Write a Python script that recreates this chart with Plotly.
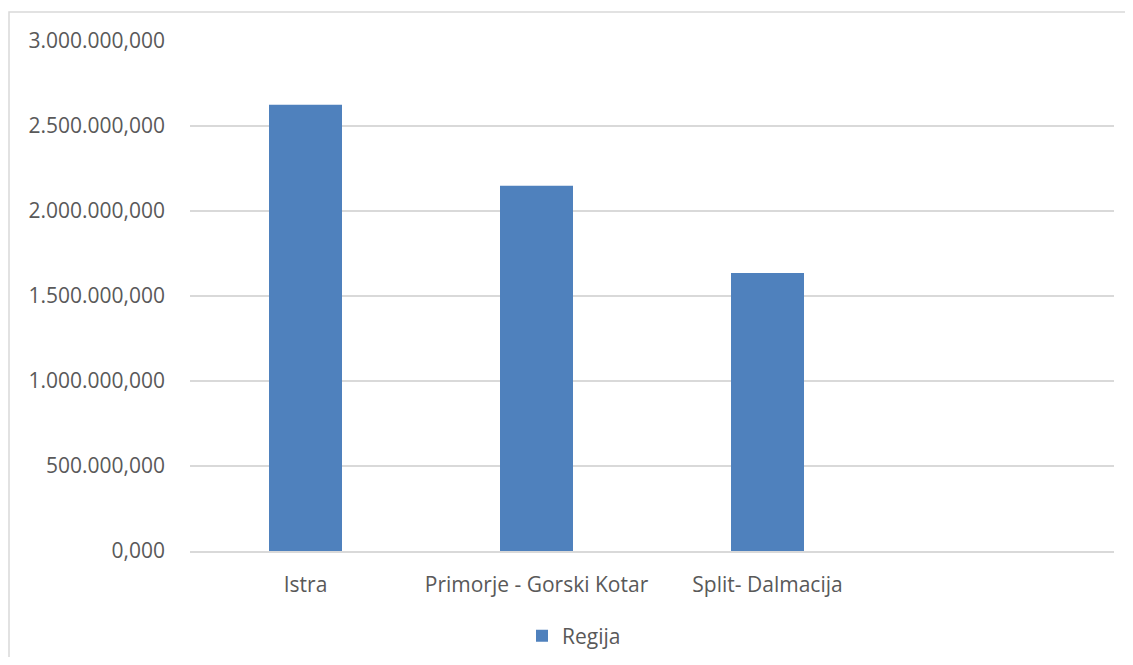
import plotly.graph_objects as go

categories = ["Istra", "Primorje - Gorski Kotar", "Split- Dalmacija"]
values = [2625000, 2148000, 1636000]
series_name = "Regija"
y_ticks = [0, 500000, 1000000, 1500000, 2000000, 2500000, 3000000]

FONT = "Open Sans"
TXT = "#595959"
GRID = "#d9d9d9"

fig = go.Figure()
fig.add_trace(go.Bar(
    x=categories, y=values, name=series_name,
    marker=dict(color="#4f81bd", line=dict(width=0)),
))

# page body has an 8px margin; work in reference coordinates and shift
OFF = 8
W, H = 1133 - 2 * OFF, 665 - 2 * OFF
L = 190 - OFF
T = 41 - OFF
PR = 1114 - OFF
PB = 551 - OFF
R = W - PR
B = H - PB
pw, ph = PR - L, PB - T

def px_x(x):
    return (x - OFF - L) / pw

def px_y(y):
    return (PB - (y - OFF)) / ph

fig.update_layout(
    width=W, height=H,
    margin=dict(l=L, r=R, t=T, b=B, pad=0, autoexpand=False),
    paper_bgcolor="white", plot_bgcolor="white",
    separators=",.",
    bargap=0.684,
    showlegend=True,
    font=dict(family=FONT, color=TXT, size=21),
    legend=dict(orientation="h", x=px_x(522), xanchor="left", y=px_y(636), yanchor="middle",
                font=dict(size=21, color=TXT, family=FONT), itemwidth=30,
                bgcolor="rgba(0,0,0,0)"),
    xaxis=dict(
        type="category", categoryorder="array",
        categoryarray=categories + [" "],
        range=[-0.5, 3.5],
        showgrid=False, showline=True, linecolor=GRID, linewidth=1.5,
        ticks="", ticklabelstandoff=14,
        tickfont=dict(size=21, color=TXT, family=FONT),
        zeroline=False, fixedrange=True, automargin=False,
    ),
    yaxis=dict(
        range=[0, 3000000], tickvals=y_ticks, tickformat=",.3f",
        showgrid=True, gridcolor=GRID, gridwidth=1.5,
        showline=False, zeroline=False, ticks="",
        ticklabelstandoff=24,
        tickfont=dict(size=21, color=TXT, family=FONT),
        fixedrange=True, automargin=False,
    ),
    shapes=[dict(type="rect", xref="paper", yref="paper",
                 x0=px_x(9), x1=px_x(1160), y0=px_y(720), y1=px_y(12),
                 line=dict(color=GRID, width=1.5), fillcolor="rgba(0,0,0,0)", layer="below")],
)

fig.write_html("out.html")
